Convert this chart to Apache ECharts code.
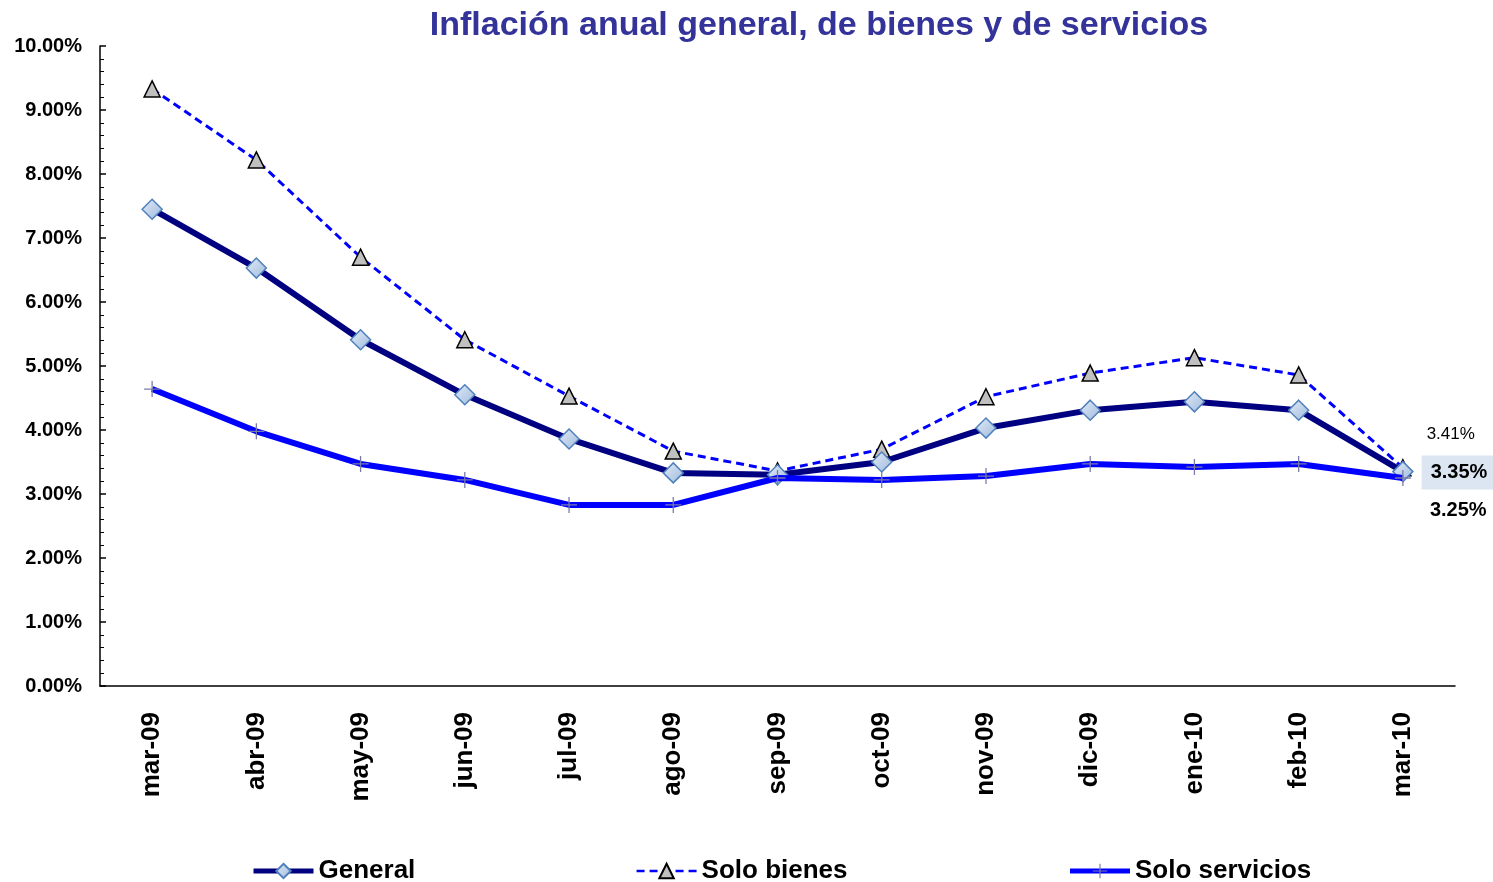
<!DOCTYPE html>
<html><head><meta charset="utf-8">
<script src="https://cdn.jsdelivr.net/npm/echarts@6/dist/echarts.min.js"></script>
<style>html,body{margin:0;padding:0;background:#fff}#c{width:1493px;height:882px}</style>
</head><body><div id="c"></div>
<script>
const categories = ['mar-09','abr-09','may-09','jun-09','jul-09','ago-09','sep-09','oct-09','nov-09','dic-09','ene-10','feb-10','mar-10'];
const general = [7.45,6.53,5.41,4.55,3.86,3.33,3.30,3.50,4.03,4.31,4.44,4.31,3.35];
const bienes = [9.33,8.22,6.70,5.41,4.53,3.67,3.36,3.70,4.52,4.89,5.13,4.86,3.41];
const servicios = [4.64,3.98,3.47,3.22,2.83,2.83,3.25,3.22,3.28,3.47,3.42,3.47,3.25];
const yTicks = [0,1,2,3,4,5,6,7,8,9,10];
const FONT = '"Liberation Sans", Arial, sans-serif';

function withLastLabel(arr, label) {
  return arr.map((v, i) => i === arr.length - 1 ? { value: v, label: label } : v);
}

const plusPath = 'path://M-0.8,-10 L0.8,-10 L0.8,-0.8 L10,-0.8 L10,0.8 L0.8,0.8 L0.8,10 L-0.8,10 L-0.8,0.8 L-10,0.8 L-10,-0.8 L-0.8,-0.8 Z';

const chart = echarts.init(document.getElementById('c'));
chart.setOption({
  animation: false,
  title: {
    text: 'Inflación anual general, de bienes y de servicios',
    left: 814, top: 4, textAlign: 'center',
    textStyle: { fontFamily: FONT, fontSize: 34, fontWeight: 'bold', color: '#333399' }
  },
  legend: {
    left: 246, top: 853, itemWidth: 60, itemHeight: 18, itemGap: 220,
    textStyle: { fontFamily: FONT, fontSize: 26, fontWeight: 'bold', color: '#000' },
    data: [
      { name: 'General', lineStyle: { width: 5 } },
      { name: 'Solo bienes', lineStyle: { width: 2.5 } },
      { name: 'Solo servicios', lineStyle: { width: 5 } }
    ]
  },
  grid: { left: 100, right: 38, top: 46, bottom: 196, containLabel: false },
  xAxis: {
    type: 'category', data: categories, boundaryGap: true,
    axisLine: { lineStyle: { color: '#000', width: 1.5 } },
    axisTick: { inside: true, length: 7, lineStyle: { color: '#000', width: 1.5 } },
    axisLabel: { rotate: 90, margin: 26, fontFamily: FONT, fontSize: 26, fontWeight: 'bold', color: '#000', interval: 0 }
  },
  yAxis: {
    type: 'value', min: yTicks[0], max: yTicks[yTicks.length - 1], interval: 1,
    splitLine: { show: false },
    axisLine: { show: true, lineStyle: { color: '#000', width: 1.5 } },
    axisTick: { show: true, inside: true, length: 6, lineStyle: { color: '#000', width: 1.5 } },
    minorTick: { show: true, splitNumber: 5, length: 4, lineStyle: { color: '#000', width: 1 } },
    axisLabel: { margin: 18, fontFamily: FONT, fontSize: 20, fontWeight: 'bold', color: '#000',
      formatter: v => v.toFixed(2) + '%' }
  },
  series: [
    {
      name: 'Solo bienes', type: 'line', data: withLastLabel(bienes, {
        show: true, position: 'right', offset: [10, -33], formatter: '3.41%',
        fontFamily: FONT, fontSize: 17, color: '#000'
      }),
      symbol: 'triangle', symbolSize: 16, z: 2,
      lineStyle: { color: '#0000ff', width: 3, type: [8, 5] },
      itemStyle: { color: '#c0c0c0', borderColor: '#000', borderWidth: 1.5 }
    },
    {
      name: 'General', type: 'line', data: withLastLabel(general, {
        show: true, position: 'right', offset: [3, 1], formatter: '3.35%',
        fontFamily: FONT, fontSize: 20, fontWeight: 'bold', color: '#000',
        backgroundColor: '#dce6f2', padding: [7, 14, 7, 9]
      }),
      symbol: 'diamond', symbolSize: 20, z: 3,
      lineStyle: { color: '#000080', width: 6 },
      itemStyle: {
        color: new echarts.graphic.LinearGradient(0, 0, 1, 1, [
          { offset: 0, color: '#e4ecf7' }, { offset: 1, color: '#9db9dc' }
        ]),
        borderColor: '#4f81bd', borderWidth: 1.5
      }
    },
    {
      name: 'Solo servicios', type: 'line', data: withLastLabel(servicios, {
        show: true, position: 'right', offset: [14, 32], formatter: '3.25%',
        fontFamily: FONT, fontSize: 20, fontWeight: 'bold', color: '#000'
      }),
      symbol: plusPath, symbolSize: 16, z: 4,
      lineStyle: { color: '#0000ff', width: 6 },
      itemStyle: { color: '#7a7aa8', borderWidth: 0 }
    }
  ]
});
</script>
</body></html>
